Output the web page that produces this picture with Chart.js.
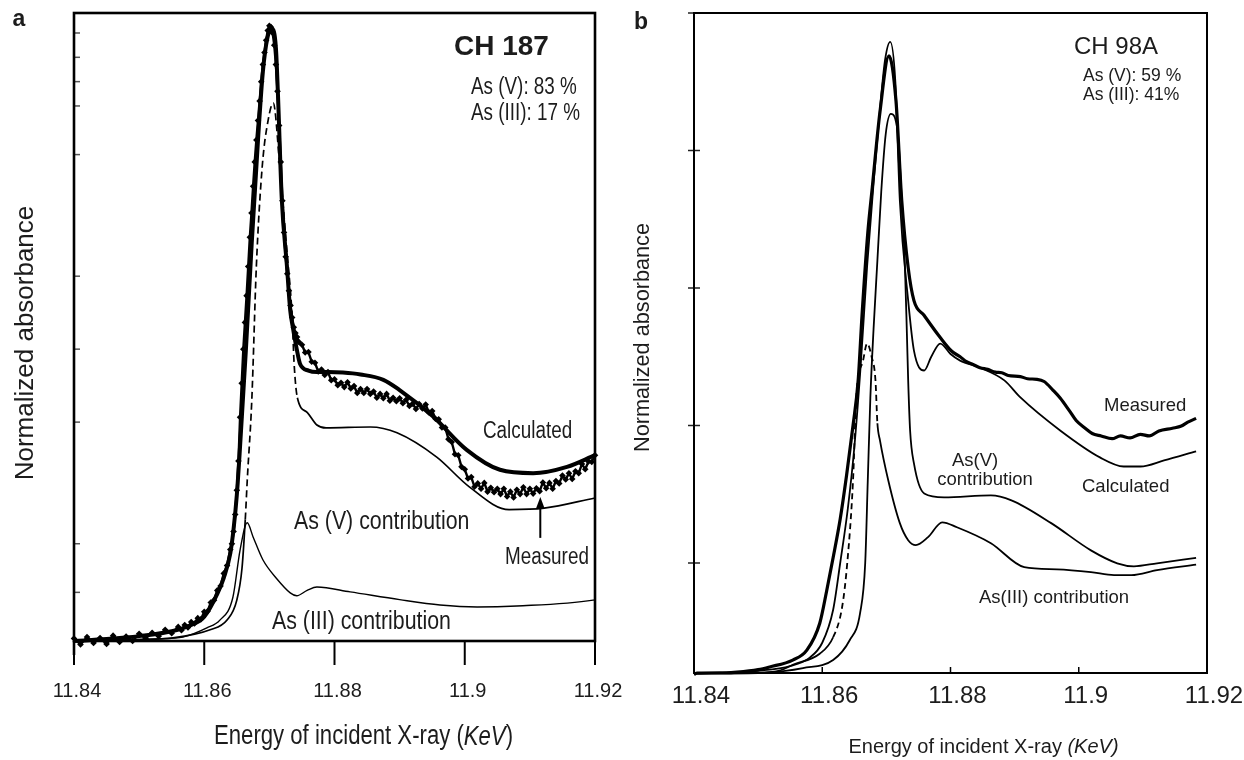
<!DOCTYPE html>
<html>
<head>
<meta charset="utf-8">
<script src="https://cdn.jsdelivr.net/npm/chart.js@4.4.1/dist/chart.umd.min.js"></script>
<style>
  html, body { margin: 0; padding: 0; background: #fff; }
  #wrap { position: relative; width: 1244px; height: 760px; background: #fff; overflow: hidden; }
  canvas { position: absolute; top: 0; }
</style>
</head>
<body>
<div id="wrap">
  <canvas id="ca" width="640" height="760" style="left:0px"></canvas>
  <canvas id="cb" width="624" height="760" style="left:620px"></canvas>
</div>
<script>
// ---------------- DATA ----------------
const xTicks = [11.84, 11.86, 11.88, 11.9, 11.92];
const xTickLabels = ['11.84', '11.86', '11.88', '11.9', '11.92'];
const yTicksA = [0.1, 0.2, 0.45, 0.6, 0.75, 1.0, 1.1, 1.15, 1.2, 1.25];
const yTicksB = [0.5, 1.0, 1.5, 2.0, 2.5];

// Panel a (CH 187) - measured spectrum (noisy, diamond markers)
const aMeasE = [11.840,11.841,11.842,11.843,11.844,11.845,11.846,11.847,11.848,11.849,11.850,11.851,11.852,11.853,11.854,11.855,11.856,
  11.8565,11.857,11.8575,11.858,11.8585,11.859,11.8595,11.860,11.8605,11.861,11.8615,11.862,11.8625,11.863,11.8635,11.864,
  11.86425,11.8645,11.86475,11.865,11.86525,11.8655,11.86575,11.866,11.86625,11.8665,11.86675,11.867,11.86725,11.8675,11.86775,11.868,11.86825,11.8685,11.86875,11.869,11.86925,11.8695,11.86975,11.870,11.87025,11.8705,11.87075,11.871,11.87125,11.8715,11.87175,11.872,11.87225,11.8725,11.87275,11.873,11.87325,11.8735,11.87375,11.874,11.87425,11.8745,
  11.875,11.8755,11.876,11.8765,11.877,11.8775,11.878,11.8785,11.879,11.8795,11.880,11.8805,11.881,11.8815,11.882,11.8825,11.883,11.8835,11.884,11.8845,11.885,11.8855,11.886,11.8865,11.887,11.8875,11.888,11.8885,11.889,11.8895,11.890,11.8905,11.891,11.8915,11.892,11.8925,11.893,11.8935,11.894,11.8945,11.895,11.8955,11.896,11.8965,11.897,11.8975,11.898,11.8985,11.899,11.8995,11.900,11.9005,11.901,11.9015,11.902,11.9025,11.903,11.9035,11.904,11.9045,11.905,11.9055,11.906,11.9065,11.907,11.9075,11.908,11.9085,11.909,11.9095,11.910,11.9105,11.911,11.9115,11.912,11.9125,11.913,11.9135,11.914,11.9145,11.915,11.9155,11.916,11.9165,11.917,11.9175,11.918,11.9185,11.919,11.9195,11.920];
const aMeasV = [0.005,-0.007,0.008,-0.004,0.006,-0.006,0.011,-0.002,0.009,0.000,0.015,0.005,0.017,0.010,0.023,0.016,0.029,
  0.022,0.033,0.028,0.039,0.036,0.047,0.045,0.060,0.061,0.079,0.084,0.104,0.113,0.139,0.155,0.188,
  0.200,0.225,0.260,0.310,0.370,0.460,0.530,0.600,0.655,0.710,0.770,0.830,0.880,0.935,0.985,1.030,1.070,1.110,1.150,1.185,1.210,1.235,1.255,1.265,1.262,1.250,1.225,1.185,1.130,1.060,0.985,0.905,0.840,0.790,0.755,0.720,0.690,0.665,0.645,0.633,0.625,0.615,
  0.609,0.593,0.594,0.574,0.572,0.554,0.558,0.547,0.553,0.536,0.538,0.526,0.531,0.522,0.532,0.519,0.524,0.510,0.518,0.510,0.518,0.508,0.513,0.500,0.508,0.499,0.508,0.494,0.500,0.493,0.499,0.489,0.496,0.483,0.488,0.477,0.487,0.478,0.486,0.470,0.473,0.457,0.456,0.439,0.439,0.415,0.409,0.384,0.382,0.358,0.353,0.334,0.337,0.317,0.324,0.313,0.325,0.307,0.315,0.306,0.313,0.302,0.313,0.297,0.307,0.295,0.311,0.302,0.316,0.302,0.313,0.303,0.314,0.308,0.326,0.314,0.325,0.313,0.329,0.324,0.340,0.332,0.345,0.333,0.349,0.345,0.364,0.353,0.369,0.368,0.382];

const aCalcE = [11.840,11.845,11.850,11.855,11.858,11.860,11.862,11.863,11.864,11.8645,11.865,11.8655,11.8664,11.8673,11.8683,11.869,11.8697,11.8704,11.871,11.8713,11.8719,11.8727,11.8732,11.8736,11.8742,11.8747,11.876,11.8773,11.879,11.8813,11.884,11.8875,11.890,11.8951,11.9003,11.9054,11.9105,11.9157,11.920];
const aCalcV = [0.000,0.004,0.010,0.020,0.033,0.050,0.097,0.130,0.180,0.230,0.300,0.400,0.600,0.820,1.040,1.170,1.240,1.258,1.220,1.130,0.910,0.770,0.680,0.645,0.600,0.570,0.556,0.553,0.553,0.552,0.548,0.537,0.516,0.462,0.393,0.352,0.345,0.358,0.382];

const aAs5E = [11.840,11.850,11.855,11.8609,11.8635,11.865,11.8658,11.8663,11.8666,11.8673,11.868,11.8689,11.8698,11.8706,11.8716,11.8727,11.8735,11.8738,11.8743,11.8758,11.8773,11.8787,11.8855,11.8896,11.8957,11.9007,11.9068,11.9122,11.920];
const aAs5V = [0.000,0.003,0.006,0.023,0.043,0.084,0.150,0.250,0.330,0.495,0.770,0.975,1.070,1.106,0.975,0.800,0.666,0.570,0.500,0.470,0.444,0.438,0.440,0.428,0.378,0.317,0.270,0.273,0.294];

const aAs3E = [11.840,11.850,11.855,11.8567,11.8604,11.8624,11.8644,11.8655,11.8666,11.8675,11.869,11.8712,11.8732,11.8742,11.8758,11.8773,11.8824,11.890,11.8962,11.9019,11.908,11.9197,11.920];
const aAs3V = [0.000,0.003,0.006,0.008,0.027,0.043,0.090,0.187,0.243,0.214,0.167,0.127,0.099,0.093,0.104,0.111,0.101,0.085,0.074,0.070,0.072,0.084,0.085];

// Panel b (CH 98A)
const bMeasE = [11.840,11.8405,11.845,11.8467,11.850,11.8518,11.8554,11.8576,11.8596,11.8607,11.8617,11.8628,11.8638,11.8648,11.8656,11.8662,11.8671,11.8678,11.869,11.8704,11.8715,11.8724,11.8734,11.8743,11.8759,11.8784,11.8802,11.8815,11.8825,11.8835,11.8846,11.8858,11.887,11.888,11.889,11.8909,11.892,11.8935,11.8946,11.896,11.8971,11.8985,11.8996,11.901,11.9021,11.9035,11.9052,11.9065,11.908,11.9096,11.911,11.9125,11.9146,11.916,11.917,11.9183];
const bMeasV = [0.095,0.100,0.101,0.103,0.112,0.122,0.147,0.183,0.280,0.400,0.520,0.660,0.820,1.000,1.164,1.400,1.700,1.865,2.140,2.344,2.180,1.817,1.574,1.454,1.400,1.320,1.270,1.250,1.232,1.222,1.210,1.204,1.194,1.192,1.182,1.178,1.170,1.168,1.160,1.128,1.100,1.055,1.018,0.990,0.971,0.962,0.952,0.962,0.955,0.968,0.962,0.980,0.990,0.998,1.012,1.026];

const bCalcE = [11.840,11.845,11.850,11.855,11.858,11.860,11.8617,11.8628,11.864,11.865,11.866,11.867,11.868,11.869,11.8698,11.8706,11.8714,11.8721,11.8734,11.8743,11.8759,11.877,11.8784,11.880,11.8815,11.8846,11.8884,11.8909,11.8971,11.9033,11.907,11.9096,11.9133,11.9183];
const bCalcV = [0.098,0.101,0.108,0.125,0.155,0.210,0.330,0.500,0.700,0.920,1.220,1.580,1.880,2.150,2.330,2.395,2.250,1.817,1.454,1.272,1.200,1.250,1.298,1.260,1.236,1.210,1.164,1.102,0.982,0.884,0.851,0.851,0.873,0.906];

const bAs5E = [11.840,11.8518,11.857,11.8617,11.8643,11.8659,11.8667,11.8671,11.8675,11.868,11.8686,11.8692,11.8699,11.8707,11.8718,11.8724,11.8729,11.8732,11.8734,11.8737,11.8743,11.8759,11.879,11.8863,11.8895,11.8957,11.9019,11.906,11.9086,11.9122,11.9183];
const bAs5V = [0.100,0.103,0.118,0.147,0.220,0.318,0.500,0.800,1.100,1.350,1.600,1.850,2.060,2.133,2.060,1.817,1.574,1.334,1.164,0.982,0.862,0.753,0.739,0.746,0.728,0.645,0.546,0.499,0.488,0.499,0.519];

const bAs3E = [11.840,11.850,11.8535,11.8554,11.8596,11.8617,11.8631,11.8639,11.8648,11.8653,11.8664,11.867,11.8677,11.8683,11.8686,11.869,11.8703,11.8721,11.8734,11.8746,11.8765,11.8787,11.881,11.8863,11.8915,11.8966,11.9019,11.9055,11.9082,11.9122,11.9183];
const bAs3V = [0.098,0.100,0.110,0.130,0.170,0.230,0.340,0.500,0.800,1.100,1.240,1.298,1.250,1.164,1.008,0.946,0.800,0.645,0.583,0.565,0.594,0.648,0.630,0.572,0.485,0.477,0.467,0.456,0.456,0.474,0.494];

// ---------------- HELPERS ----------------
const pts = (xs, ys) => xs.map((x, i) => ({ x: x, y: ys[i] }));
const SANS = '"Liberation Sans", Arial, Helvetica, sans-serif';
function hasFont(name) {
  const c = document.createElement('canvas').getContext('2d');
  const s = 'abcdefghij 11.88 Measured';
  c.font = '40px monospace';
  const w0 = c.measureText(s).width;
  c.font = '40px "' + name + '", monospace';
  const w1 = c.measureText(s).width;
  return Math.abs(w0 - w1) > 0.5;
}
const HAS_NARROW = hasFont('Liberation Sans Narrow');
const NARROW = '"Liberation Sans Narrow", "Arial Narrow", ' + SANS;
const TEXT = '#1c1c1c';

function drawText(ctx, it) {
  ctx.save();
  ctx.translate(it.x, it.y);
  if (it.rotate) ctx.rotate(it.rotate);
  let fam = SANS, sx = 1;
  if (it.narrow) { if (HAS_NARROW) fam = NARROW; else sx = 0.82; }
  ctx.scale(sx, 1);
  const fontFor = p => (p[1] ? 'italic ' : '') + (it.weight || 'normal') + ' ' + it.size + 'px ' + fam;
  let total = 0;
  for (const p of it.parts) { ctx.font = fontFor(p); total += ctx.measureText(p[0]).width; }
  let x = it.align === 'center' ? -total / 2 : (it.align === 'right' ? -total : 0);
  ctx.textBaseline = 'middle';
  ctx.textAlign = 'left';
  ctx.fillStyle = it.color || TEXT;
  for (const p of it.parts) { ctx.font = fontFor(p); ctx.fillText(p[0], x, 0); x += ctx.measureText(p[0]).width; }
  ctx.restore();
}

const panelDecor = {
  id: 'panelDecor',
  afterDraw(chart, args, o) {
    const ctx = chart.ctx, ca = chart.chartArea;
    const xs = chart.scales.x, ys = chart.scales.y;
    ctx.save();
    ctx.lineCap = 'butt';
    ctx.strokeStyle = o.yTick.color; ctx.lineWidth = o.yTick.width;
    for (const t of ys.ticks) {
      const py = ys.getPixelForValue(t.value);
      ctx.beginPath(); ctx.moveTo(ca.left - o.yTick.out, py); ctx.lineTo(ca.left + o.yTick.in, py); ctx.stroke();
    }
    ctx.strokeStyle = o.xTick.color; ctx.lineWidth = o.xTick.width;
    for (const t of xs.ticks) {
      const px = xs.getPixelForValue(t.value);
      ctx.beginPath(); ctx.moveTo(px, ca.bottom + o.xTick.out); ctx.lineTo(px, ca.bottom - o.xTick.in); ctx.stroke();
    }
    ctx.strokeStyle = '#000'; ctx.lineWidth = o.frameWidth;
    ctx.strokeRect(ca.left, ca.top, ca.right - ca.left, ca.bottom - ca.top);
    if (o.axisExtend) {
      ctx.beginPath(); ctx.moveTo(ca.left, ca.bottom); ctx.lineTo(ca.left, ca.bottom + o.axisExtend); ctx.stroke();
    }
    for (const a of (o.arrows || [])) {
      const x = xs.getPixelForValue(a.x);
      const yTip = ys.getPixelForValue(a.tip), yBase = ys.getPixelForValue(a.base);
      ctx.fillStyle = '#000'; ctx.strokeStyle = '#000'; ctx.lineWidth = 2;
      ctx.beginPath(); ctx.moveTo(x, yBase); ctx.lineTo(x, yTip + 10); ctx.stroke();
      ctx.beginPath(); ctx.moveTo(x, yTip); ctx.lineTo(x - 4.5, yTip + 12); ctx.lineTo(x + 4.5, yTip + 12); ctx.closePath(); ctx.fill();
    }
    ctx.restore();
    for (const it of (o.texts || [])) drawText(ctx, it);
  }
};

function baseOptions(cfg) {
  return {
    responsive: false, animation: false, devicePixelRatio: 1,
    layout: { padding: { left: 0, right: cfg.padRight, top: 13, bottom: 0 } },
    plugins: { legend: { display: false }, tooltip: { enabled: false }, panelDecor: cfg.decor },
    scales: {
      x: {
        type: 'linear', min: 11.84, max: 11.92,
        afterBuildTicks: s => { s.ticks = xTicks.map(v => ({ value: v })); },
        ticks: {
          callback: (v, i) => xTickLabels[i], autoSkip: false, maxRotation: 0, minRotation: 0,
          font: cfg.tickFont, color: TEXT, padding: cfg.tickPad, labelOffset: cfg.labelOffset
        },
        grid: { display: false, drawTicks: false }, border: { display: false },
        afterFit: s => { s.height = cfg.xHeight; s.paddingLeft = 0; s.paddingRight = 0; }
      },
      y: {
        type: 'linear', min: cfg.yMin, max: cfg.yMax,
        afterBuildTicks: s => { s.ticks = cfg.yTicks.map(v => ({ value: v })); },
        ticks: { display: false },
        grid: { display: false, drawTicks: false }, border: { display: false },
        afterFit: s => { s.width = 74; s.paddingTop = 0; s.paddingBottom = 0; }
      }
    }
  };
}

const lineBase = { borderColor: '#000', backgroundColor: '#000', pointRadius: 0, fill: false, clip: 10 };

// ---------------- PANEL A ----------------
const DASH_A = [11.8661, 11.8745];
new Chart(document.getElementById('ca'), {
  type: 'line',
  data: {
    datasets: [
      Object.assign({}, lineBase, { label: 'Measured', data: pts(aMeasE, aMeasV), borderWidth: 2.4, tension: 0,
        pointStyle: 'rectRot', pointRadius: 3.3, pointBackgroundColor: '#000', pointBorderWidth: 0 }),
      Object.assign({}, lineBase, { label: 'Calculated', data: pts(aCalcE, aCalcV), borderWidth: 4, cubicInterpolationMode: 'monotone' }),
      Object.assign({}, lineBase, { label: 'As (V) contribution', data: pts(aAs5E, aAs5V), borderWidth: 1.7, cubicInterpolationMode: 'monotone',
        segment: { borderDash: c => (c.p0.parsed.x >= DASH_A[0] && c.p1.parsed.x <= DASH_A[1]) ? [7, 4] : undefined } }),
      Object.assign({}, lineBase, { label: 'As (III) contribution', data: pts(aAs3E, aAs3V), borderWidth: 1.4, cubicInterpolationMode: 'monotone' })
    ]
  },
  options: baseOptions({
    padRight: 45, xHeight: 119, tickPad: 38, labelOffset: 3,
    tickFont: HAS_NARROW ? { family: NARROW, size: 24 } : { family: SANS, size: 20 },
    yMin: 0, yMax: 1.2911, yTicks: yTicksA,
    decor: {
      yTick: { in: 6, out: 0, width: 1.5, color: '#555' },
      xTick: { in: 0, out: 24, width: 2, color: '#000' },
      frameWidth: 2.6, axisExtend: 14,
      arrows: [{ x: 11.9116, tip: 0.296, base: 0.212 }],
      texts: [
        { parts: [['a']], x: 19, y: 20, size: 23, weight: 'bold', align: 'center' },
        { parts: [['CH 187']], x: 454, y: 47, size: 28, weight: 'bold', align: 'left' },
        { parts: [['As (V): 83 %']], x: 471, y: 88, size: 23, narrow: true, align: 'left' },
        { parts: [['As (III): 17 %']], x: 471, y: 114, size: 23, narrow: true, align: 'left' },
        { parts: [['Calculated']], x: 483, y: 432, size: 23, narrow: true, align: 'left' },
        { parts: [['As (V) contribution']], x: 294, y: 522, size: 26, narrow: true, align: 'left' },
        { parts: [['Measured']], x: 505, y: 558, size: 23, narrow: true, align: 'left' },
        { parts: [['As (III) contribution']], x: 272, y: 622, size: 26, narrow: true, align: 'left' },
        { parts: [['Energy of incident X-ray ('], ['KeV', true], [')']], x: 363.5, y: 737, size: 27, narrow: true, align: 'center' },
        { parts: [['Normalized absorbance']], x: 26, y: 343, size: 26, align: 'center', rotate: -Math.PI / 2 }
      ]
    }
  }),
  plugins: [panelDecor]
});

// ---------------- PANEL B ----------------
const DASH_B = [11.8614, 11.8687];
new Chart(document.getElementById('cb'), {
  type: 'line',
  data: {
    datasets: [
      Object.assign({}, lineBase, { label: 'Measured', data: pts(bMeasE, bMeasV), borderWidth: 3.2, cubicInterpolationMode: 'monotone' }),
      Object.assign({}, lineBase, { label: 'Calculated', data: pts(bCalcE, bCalcV), borderWidth: 1.8, cubicInterpolationMode: 'monotone' }),
      Object.assign({}, lineBase, { label: 'As(V) contribution', data: pts(bAs5E, bAs5V), borderWidth: 1.8, cubicInterpolationMode: 'monotone' }),
      Object.assign({}, lineBase, { label: 'As(III) contribution', data: pts(bAs3E, bAs3V), borderWidth: 1.8, cubicInterpolationMode: 'monotone',
        segment: { borderDash: c => (c.p0.parsed.x >= DASH_B[0] && c.p1.parsed.x <= DASH_B[1]) ? [6, 4] : undefined } })
    ]
  },
  options: baseOptions({
    padRight: 37, xHeight: 87, tickPad: 9, labelOffset: 7,
    tickFont: { family: SANS, size: 24 },
    yMin: 0.1, yMax: 2.5, yTicks: yTicksB,
    decor: {
      yTick: { in: 6, out: 6, width: 1.5, color: '#222' },
      xTick: { in: 6, out: 0, width: 1.5, color: '#000' },
      frameWidth: 2, axisExtend: 0,
      texts: [
        { parts: [['b']], x: 21, y: 23, size: 23, weight: 'bold', align: 'center' },
        { parts: [['CH 98A']], x: 454, y: 47, size: 24, align: 'left' },
        { parts: [['As (V): 59 %']], x: 463, y: 76, size: 17.5, align: 'left' },
        { parts: [['As (III): 41%']], x: 463, y: 95, size: 17.5, align: 'left' },
        { parts: [['Measured']], x: 484, y: 406, size: 18.5, align: 'left' },
        { parts: [['Calculated']], x: 462, y: 487, size: 18.5, align: 'left' },
        { parts: [['As(V)']], x: 355, y: 461, size: 18.5, align: 'center' },
        { parts: [['contribution']], x: 365, y: 480, size: 18.5, align: 'center' },
        { parts: [['As(III) contribution']], x: 359, y: 598, size: 18.5, align: 'left' },
        { parts: [['Energy of incident X-ray '], ['(KeV)', true]], x: 363.5, y: 747, size: 20, align: 'center' },
        { parts: [['Normalized absorbance']], x: 23, y: 337.5, size: 21.7, align: 'center', rotate: -Math.PI / 2 }
      ]
    }
  }),
  plugins: [panelDecor]
});
</script>
</body>
</html>
